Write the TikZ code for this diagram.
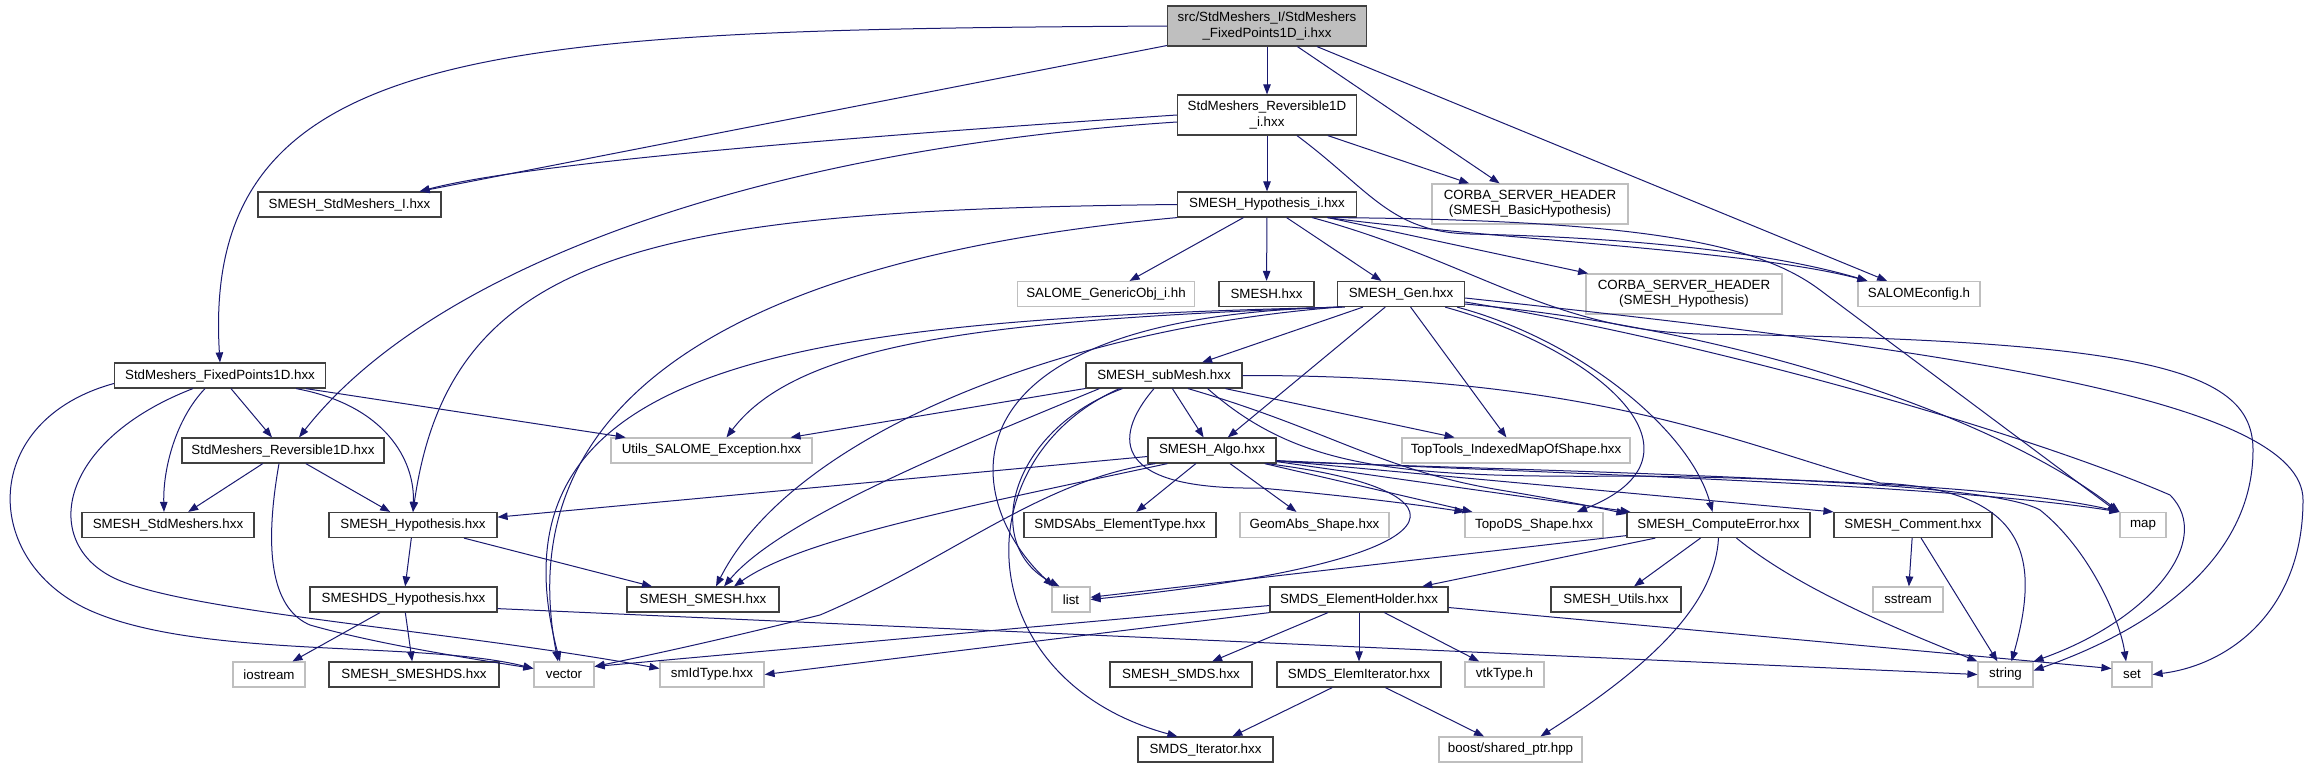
\documentclass[tikz,border=0pt]{standalone}
\usepackage{fontspec}
\setmainfont{Liberation Sans}
\usepackage{tikz}
\usetikzlibrary{arrows.meta,calc}
\definecolor{edgeblue}{HTML}{191970}
\definecolor{boxdark}{HTML}{404040}
\definecolor{boxgray}{HTML}{BFBFBF}
\tikzset{
  hfile/.style={rectangle, draw=boxdark, fill=white, line width=0.9pt,
    font=\fontsize{10pt}{11.5pt}\selectfont, align=center, inner sep=0pt,
    minimum height=18.75pt, minimum width=#1*0.75pt},
  sysfile/.style={hfile=#1, draw=boxgray},
  rootfile/.style={hfile=#1, fill=boxgray, minimum height=30pt},
  incarrow/.style={-{Triangle[length=7.5pt,width=5.6pt]}, draw=edgeblue, line width=0.75pt}
}
\begin{document}
\begin{tikzpicture}[x=0.75pt,y=-0.75pt]
\path[use as bounding box, fill=white] (0,0) rectangle (2311,768);
% files
\node[rootfile=199] (root) at (1267,26) {src/StdMeshers\_I/StdMeshers\\\_FixedPoints1D\_i.hxx};
\node[hfile=179,minimum height=30pt] (revi) at (1267,115) {StdMeshers\_Reversible1D\\\_i.hxx};
\node[hfile=183] (stdi) at (349.5,204.5) {SMESH\_StdMeshers\_I.hxx};
\node[hfile=179] (hypi) at (1267,204.5) {SMESH\_Hypothesis\_i.hxx};
\node[sysfile=196,minimum height=30pt] (cbasic) at (1530,204) {CORBA\_SERVER\_HEADER\\(SMESH\_BasicHypothesis)};
\node[sysfile=177] (gobj) at (1106,294) {SALOME\_GenericObj\_i.hh};
\node[hfile=95] (smesh) at (1266.5,294) {SMESH.hxx};
\node[hfile=127] (gen) at (1401,294) {SMESH\_Gen.hxx};
\node[sysfile=196,minimum height=30pt] (chyp) at (1684,294) {CORBA\_SERVER\_HEADER\\(SMESH\_Hypothesis)};
\node[sysfile=122] (sconf) at (1919,294) {SALOMEconfig.h};
\node[hfile=211] (fp1d) at (220,375.5) {StdMeshers\_FixedPoints1D.hxx};
\node[hfile=156] (submesh) at (1164,375.5) {SMESH\_subMesh.hxx};
\node[hfile=202] (rev1d) at (283,450.5) {StdMeshers\_Reversible1D.hxx};
\node[sysfile=201] (utils) at (711.5,450.5) {Utils\_SALOME\_Exception.hxx};
\node[hfile=128] (algo) at (1212,450.5) {SMESH\_Algo.hxx};
\node[sysfile=228] (ttools) at (1516,450.5) {TopTools\_IndexedMapOfShape.hxx};
\node[hfile=172] (stdm) at (168,525) {SMESH\_StdMeshers.hxx};
\node[hfile=168] (hyp) at (413,525) {SMESH\_Hypothesis.hxx};
\node[hfile=192] (etype) at (1120,525) {SMDSAbs\_ElementType.hxx};
\node[sysfile=149] (geomabs) at (1314.5,525) {GeomAbs\_Shape.hxx};
\node[sysfile=138] (topods) at (1534,525) {TopoDS\_Shape.hxx};
\node[hfile=183] (comperr) at (1718.5,525) {SMESH\_ComputeError.hxx};
\node[hfile=158] (comment) at (1913,525) {SMESH\_Comment.hxx};
\node[sysfile=46] (stlmap) at (2143,525) {map};
\node[hfile=187] (dshyp) at (403.5,599.5) {SMESHDS\_Hypothesis.hxx};
\node[hfile=152] (smeshh) at (703,599.5) {SMESH\_SMESH.hxx};
\node[sysfile=38] (stllist) at (1071,599.5) {list};
\node[hfile=178] (eholder) at (1359,599.5) {SMDS\_ElementHolder.hxx};
\node[hfile=130] (mutils) at (1616,599.5) {SMESH\_Utils.hxx};
\node[sysfile=70] (sst) at (1908,599.5) {sstream};
\node[sysfile=72] (ios) at (269,674.5) {iostream};
\node[hfile=170] (smeshds) at (414,674.5) {SMESH\_SMESHDS.hxx};
\node[sysfile=60] (stlvec) at (564,674.5) {vector};
\node[sysfile=104] (smid) at (712,674.5) {smIdType.hxx};
\node[hfile=142] (smds) at (1181,674.5) {SMESH\_SMDS.hxx};
\node[hfile=164] (elemit) at (1359,674.5) {SMDS\_ElemIterator.hxx};
\node[sysfile=79] (vtk) at (1504.5,674.5) {vtkType.h};
\node[sysfile=55] (stlstr) at (2005.5,674.5) {string};
\node[sysfile=40] (stlset) at (2132,674.5) {set};
\node[hfile=135] (iter) at (1205.5,749.5) {SMDS\_Iterator.hxx};
\node[sysfile=143] (shptr) at (1510.5,749.5) {boost/shared\_ptr.hpp};
% root
\draw[incarrow] (root.west) .. controls (500,30) and (200,40) .. (fp1d.north);
\draw[incarrow] (root) -- ($(stdi.north east)+(-22,0)$);
\draw[incarrow] (root) -- (revi);
\draw[incarrow] (root) -- (cbasic);
\draw[incarrow] (root) -- (sconf);
% StdMeshers_Reversible1D_i
\draw[incarrow] (revi.west) .. controls (800,140) and (520,165) .. ($(stdi.north east)+(-22,0)$);
\draw[incarrow] ($(revi.west)+(0,7)$) .. controls (750,150) and (430,270) .. ($(rev1d.north)+(16,0)$);
\draw[incarrow] (revi) -- (hypi);
\draw[incarrow] (revi) -- (cbasic);
\draw[incarrow] ($(revi.south)+(30,0)$) .. controls (1370,190) and (1390,232) .. (1470,234)
  .. controls (1650,238) and (1780,255) .. ($(sconf.north west)+(10,0)$);
% SMESH_Hypothesis_i
\draw[incarrow] (hypi.west) .. controls (650,210) and (450,250) .. (hyp.north);
\draw[incarrow] (hypi.south west) .. controls (820,250) and (500,360) .. ($(stlvec.north)+(-6,0)$);
\draw[incarrow] (hypi) -- (gobj);
\draw[incarrow] (hypi) -- (smesh);
\draw[incarrow] (hypi) -- (gen);
\draw[incarrow] (hypi) -- (chyp);
\draw[incarrow] ($(hypi.south east)+(-30,0)$) .. controls (1500,240) and (1750,250) .. ($(sconf.north west)+(10,0)$);
\draw[incarrow] ($(hypi.south east)+(-25,0)$) .. controls (1650,220) and (1760,245) .. (1820,290) -- ($(stlmap.north west)+(-2,0)$);
\draw[incarrow] ($(hypi.south east)+(-45,0)$) .. controls (1470,260) and (1550,330) .. (1700,334)
  .. controls (2150,340) and (2253,370) .. (2253,450) .. controls (2253,560) and (2150,630) .. ($(stlstr.east)+(0,-4)$);
% SMESH_Gen
\draw[incarrow] (gen) -- (submesh);
\draw[incarrow] (gen.south west) .. controls (1000,320) and (800,340) .. ($(utils.north)+(15,0)$);
\draw[incarrow] ($(gen.south west)+(5,0)$) .. controls (800,320) and (480,360) .. ($(stlvec.north)+(-4,0)$);
\draw[incarrow] ($(gen.south west)+(8,0)$) .. controls (930,315) and (960,500) .. ($(stllist.north west)+(2,0)$);
\draw[incarrow] ($(gen.south west)+(2,0)$) .. controls (1050,330) and (790,440) .. ($(smeshh.north)+(13,0)$);
\draw[incarrow] (gen) -- (algo);
\draw[incarrow] (gen) -- (ttools);
\draw[incarrow] ($(gen.south east)+(-20,0)$) .. controls (1600,350) and (1720,455) .. ($(topods.north)+(43,0)$);
\draw[incarrow] ($(gen.south east)+(-8,0)$) .. controls (1580,340) and (1690,430) .. ($(comperr.north)+(-6,0)$);
\draw[incarrow] ($(gen.east)+(0,10)$) .. controls (1750,330) and (2000,420) .. (stlmap.north west);
\draw[incarrow] ($(gen.east)+(0,8)$) .. controls (1700,340) and (2020,430) .. (2170,495)
  .. controls (2215,540) and (2150,620) .. (stlstr.north east);
\draw[incarrow] ($(gen.east)+(0,4)$) .. controls (1950,350) and (2303,400) .. (2303,500)
  .. controls (2303,610) and (2230,665) .. (stlset.east);
% SMESH_subMesh
\draw[incarrow] (submesh) -- (utils);
\draw[incarrow] ($(submesh.south west)+(14,0)$) .. controls (950,450) and (780,520) .. ($(smeshh.north)+(21,0)$);
\draw[incarrow] ($(submesh.south west)+(37,0)$) .. controls (1010,430) and (980,545) .. ($(stllist.north west)+(8,0)$);
\draw[incarrow] (submesh) -- (algo);
\draw[incarrow] (submesh) -- (ttools);
\draw[incarrow] ($(submesh.south west)+(34,0)$) .. controls (960,460) and (970,680) .. ($(iter.north west)+(40,0)$);
\draw[incarrow] ($(submesh.south)+(-10,0)$) .. controls (1110,440) and (1115,490) .. (1260,488)
  .. controls (1350,496) and (1420,505) .. (topods.north west);
\draw[incarrow] ($(submesh.south)+(24,0)$) .. controls (1330,430) and (1380,470) .. (1500,490)
  .. controls (1560,500) and (1600,508) .. ($(comperr.north west)+(0,2)$);
\draw[incarrow] ($(submesh.south east)+(-35,0)$) .. controls (1300,470) and (1400,478) .. (1640,476)
  .. controls (1900,480) and (2050,495) .. (stlmap.north west);
\draw[incarrow] (submesh.east) .. controls (1600,375) and (1740,445) .. (1880,483)
  .. controls (2030,490) and (2040,560) .. ($(stlstr.north)+(6,0)$);
% SMESH_Algo
\draw[incarrow] (algo) -- (hyp);
\draw[incarrow] ($(algo.south west)+(20,0)$) .. controls (950,510) and (800,540) .. ($(smeshh.north)+(31,0)$);
\draw[incarrow] ($(algo.south west)+(8,0)$) .. controls (1040,480) and (950,560) .. (820,615)
  .. controls (720,640) and (650,655) .. ($(stlvec.east)+(0,-8)$);
\draw[incarrow] (algo) -- (etype);
\draw[incarrow] (algo) -- (geomabs);
\draw[incarrow] ($(algo.south east)+(-12,0)$) -- ($(topods.north west)+(8,0)$);
\draw[incarrow] ($(algo.south east)+(-10,0)$) .. controls (1480,490) and (1480,560) .. (stllist.east);
\draw[incarrow] ($(algo.south east)+(0,-2)$) -- ($(comperr.north west)+(4,0)$);
\draw[incarrow] ($(algo.south east)+(0,-3)$) -- (comment.north west);
\draw[incarrow] ($(algo.south east)+(0,-3)$) .. controls (1600,475) and (1950,485) .. (stlmap.north west);
\draw[incarrow] ($(algo.south east)+(0,-2)$) .. controls (1700,475) and (1990,482) .. (2040,510)
  .. controls (2090,550) and (2120,620) .. ($(stlset.north)+(-6,0)$);
% SMESH_ComputeError
\draw[incarrow] (comperr) -- (stllist);
\draw[incarrow] (comperr) -- (eholder);
\draw[incarrow] (comperr) -- (mutils);
\draw[incarrow] (comperr.south) .. controls (1715,600) and (1660,660) .. ($(shptr.north)+(30,0)$);
\draw[incarrow] ($(comperr.south)+(18,0)$) .. controls (1800,590) and (1900,630) .. (stlstr.north west);
% SMESH_Comment
\draw[incarrow] (comment) -- (sst);
\draw[incarrow] (comment) -- (stlstr);
% SMDS_ElementHolder
\draw[incarrow] (eholder) -- (smds);
\draw[incarrow] (eholder) -- (elemit);
\draw[incarrow] (eholder) -- (vtk);
\draw[incarrow] ($(eholder.west)+(0,6)$) -- ($(stlvec.east)+(0,-8)$);
\draw[incarrow] (eholder.south west) -- (smid.east);
\draw[incarrow] ($(eholder.east)+(0,8)$) -- ($(stlset.west)+(0,-6)$);
% SMDS_ElemIterator
\draw[incarrow] (elemit) -- (iter);
\draw[incarrow] (elemit) -- (shptr);
% SMESH_Hypothesis
\draw[incarrow] (hyp) -- (dshyp);
\draw[incarrow] (hyp) -- (smeshh);
% SMESHDS_Hypothesis
\draw[incarrow] (dshyp) -- (ios);
\draw[incarrow] (dshyp) -- (smeshds);
\draw[incarrow] ($(dshyp.south east)+(0,-4)$) -- (stlstr.west);
% StdMeshers_FixedPoints1D
\draw[incarrow] (fp1d) -- (rev1d);
\draw[incarrow] ($(fp1d.south)+(-15,0)$) .. controls (175,420) and (163,470) .. ($(stdm.north)+(-4,0)$);
\draw[incarrow] ($(fp1d.south east)+(-30,0)$) .. controls (385,405) and (415,460) .. (hyp.north);
\draw[incarrow] (fp1d) -- (utils);
\draw[incarrow] ($(fp1d.west)+(0,8)$) .. controls (-20,420) and (-20,560) .. (89,610)
  .. controls (200,660) and (420,640) .. ($(stlvec.west)+(0,-6)$);
\draw[incarrow] ($(fp1d.south west)+(79,0)$) .. controls (60,440) and (40,540) .. (112,577)
  .. controls (180,612) and (450,630) .. ($(smid.west)+(0,-6)$);
% StdMeshers_Reversible1D
\draw[incarrow] (rev1d) -- (stdm);
\draw[incarrow] (rev1d) -- (hyp);
\draw[incarrow] ($(rev1d.south)+(-4,0)$) .. controls (262,560) and (275,610) .. (310,625)
  .. controls (380,645) and (480,660) .. ($(stlvec.west)+(0,-6)$);
\end{tikzpicture}
\end{document}
